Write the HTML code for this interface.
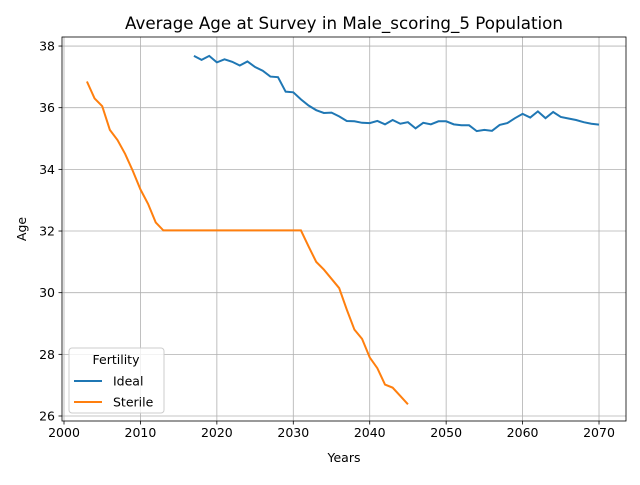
<!DOCTYPE html>
<html><head><meta charset="utf-8"><style>
body{margin:0;background:#fff;font-family:"Liberation Sans","DejaVu Sans",sans-serif}
svg text{font-family:"DejaVu Sans","Liberation Sans",sans-serif;fill:#000}
</style></head><body>
<svg id="c" width="640" height="480"></svg>
<script>
const years0=2017;
const ideal=[37.68,37.55,37.68,37.47,37.57,37.49,37.37,37.5,37.32,37.2,37.01,36.99,36.52,36.5,36.27,36.07,35.92,35.83,35.84,35.72,35.57,35.56,35.51,35.5,35.57,35.46,35.6,35.48,35.53,35.33,35.51,35.46,35.56,35.56,35.46,35.43,35.43,35.24,35.28,35.25,35.44,35.5,35.66,35.8,35.68,35.88,35.66,35.86,35.7,35.65,35.6,35.53,35.48,35.45];
const sterileStart=2003;
const sterile=[36.85,36.3,36.05,35.28,34.95,34.5,33.95,33.35,32.88,32.28,32.02,32.02,32.02,32.02,32.02,32.02,32.02,32.02,32.02,32.02,32.02,32.02,32.02,32.02,32.02,32.02,32.02,32.02,32.02,31.5,31.0,30.75,30.45,30.15,29.45,28.8,28.5,27.9,27.55,27.02,26.92,26.65,26.38];
const xTicks=[2000,2010,2020,2030,2040,2050,2060,2070];
const yTicks=[26,28,30,32,34,36,38];
const L=62,R=626,T=37,B=421;
const x=v=>64+(v-2000)*7.643;
const y=v=>416-(v-26)*30.83;
const S=document.getElementById('c');const NS='http://www.w3.org/2000/svg';
function mk(t,a,p){const e=document.createElementNS(NS,t);for(const k in a)e.setAttribute(k,a[k]);(p||S).appendChild(e);return e;}
xTicks.forEach(v=>{
 const g=mk('line',{x1:x(v),x2:x(v),y1:T,y2:B,stroke:'#b0b0b0','stroke-width':0.8});
 
 mk('line',{x1:x(v),x2:x(v),y1:B,y2:B+3.5,stroke:'#000','stroke-width':0.8});
 const t=mk('text',{x:x(v),y:B+16,'text-anchor':'middle','font-size':12.5});t.textContent=v;
 
});
yTicks.forEach(v=>{
 const g=mk('line',{x1:L,x2:R,y1:y(v),y2:y(v),stroke:'#b0b0b0','stroke-width':0.8});
 
 mk('line',{x1:L-3.5,x2:L,y1:y(v),y2:y(v),stroke:'#000','stroke-width':0.8});
 const t=mk('text',{x:L-7,y:y(v)+4.5,'text-anchor':'end','font-size':12.5});t.textContent=v;
 
});
const fr=mk('rect',{x:L,y:T,width:R-L,height:B-T,fill:'none',stroke:'#000','stroke-width':0.8});

const p1=mk('polyline',{points:ideal.map((v,i)=>x(years0+i)+','+y(v)).join(' '),fill:'none',stroke:'#1f77b4','stroke-width':2});

const p2=mk('polyline',{points:sterile.map((v,i)=>x(sterileStart+i)+','+y(v)).join(' '),fill:'none',stroke:'#ff7f0e','stroke-width':2});

let t=mk('text',{x:344,y:29,'text-anchor':'middle','font-size':16.7});t.textContent='Average Age at Survey in Male_scoring_5 Population';

t=mk('text',{x:344,y:462,'text-anchor':'middle','font-size':12.5});t.textContent='Years';

t=mk('text',{x:26,y:229,'text-anchor':'middle','font-size':12.5,transform:'rotate(-90 26 229)'});t.textContent='Age';

const lg=mk('g',{});
mk('rect',{x:69,y:348,width:95,height:65,rx:3,fill:'#fff','fill-opacity':0.8,stroke:'#ccc'},lg);
t=mk('text',{x:116,y:364,'text-anchor':'middle','font-size':12.5},lg);t.textContent='Fertility';
[['Ideal','#1f77b4',381],['Sterile','#ff7f0e',402]].forEach(([n,c,yy])=>{
 const e=mk('g',{},lg);
 mk('line',{x1:74,x2:102,y1:yy,y2:yy,stroke:c,'stroke-width':2},e);
 const tt=mk('text',{x:113,y:yy+4.5,'font-size':12.5},e);tt.textContent=n;
});
</script>
</body></html>
